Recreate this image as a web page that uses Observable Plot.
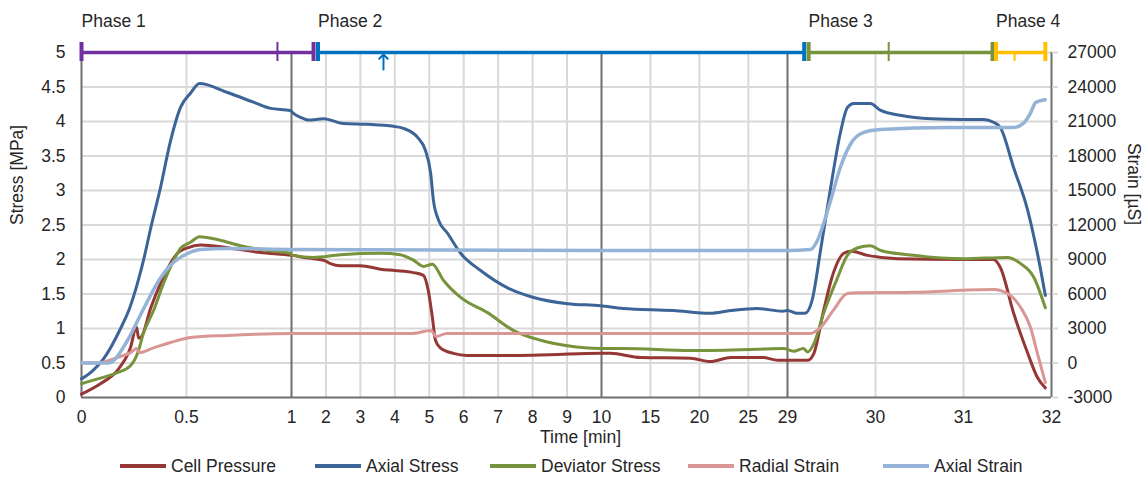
<!DOCTYPE html>
<html><head><meta charset="utf-8">
<script src="https://cdn.jsdelivr.net/npm/d3@7"></script>
<script src="https://cdn.jsdelivr.net/npm/@observablehq/plot@0.6"></script>
<style>
body{margin:0;background:#fff;font-family:"Liberation Sans",Arial,sans-serif;}
#chart{width:1143px;height:448px;}
#legend{position:relative;width:1143px;height:32px;font-size:17.5px;color:#262626;}
.li{position:absolute;top:0;height:36px;display:flex;align-items:center;white-space:nowrap;}
.sw{display:inline-block;width:46px;height:4px;margin-right:5px;}
</style></head><body>
<div id="chart"></div><div id="legend"></div>
<script>
// ---- axis definitions ----
const xBreaks = [0, 1, 10, 29, 32];
const xTicks = [0, 0.5, 1, 2, 3, 4, 5, 6, 7, 8, 9, 10, 15, 20, 25, 29, 30, 31, 32];
const stressTicks = [0, 0.5, 1, 1.5, 2, 2.5, 3, 3.5, 4, 4.5, 5];

// ---- series ----
const seriesNames = ["Cell Pressure", "Axial Stress", "Deviator Stress", "Radial Strain", "Axial Strain"];
const seriesColors = ["#953735", "#3c6496", "#77933c", "#d99694", "#95b3d7"];

// [time min, stress MPa]
const cellPressure = [[0,0.05],[0.09,0.2],[0.17,0.39],[0.233,0.72],[0.262,1.02],[0.272,0.86],[0.285,0.88],[0.33,1.3],[0.376,1.65],[0.457,2.09],[0.505,2.17],[0.567,2.21],[0.695,2.17],[0.852,2.1],[1.0,2.06],[1.5,2.02],[1.93,1.99],[2.13,1.94],[2.42,1.91],[3.0,1.91],[3.58,1.86],[4.0,1.84],[4.54,1.81],[4.83,1.77],[4.97,1.55],[5.09,1.16],[5.18,0.83],[5.32,0.72],[5.7,0.64],[6.1,0.61],[7.45,0.61],[8.5,0.62],[9.97,0.64],[10.9,0.64],[14,0.58],[19.1,0.57],[21.1,0.52],[23.2,0.58],[26.5,0.58],[28,0.54],[29.18,0.54],[29.23,0.54],[29.3,0.64],[29.41,1.26],[29.52,1.8],[29.64,2.09],[29.72,2.12],[29.91,2.06],[30.25,2.01],[31.0,2.0],[31.34,2.0],[31.42,1.88],[31.57,1.22],[31.73,0.64],[31.84,0.29],[31.93,0.14]];
const axialStress = [[0,0.27],[0.05,0.38],[0.105,0.56],[0.186,1.0],[0.23,1.3],[0.267,1.66],[0.3,2.05],[0.33,2.46],[0.376,3.04],[0.424,3.72],[0.471,4.2],[0.519,4.41],[0.562,4.55],[0.695,4.42],[0.819,4.28],[0.9,4.19],[0.995,4.16],[1.03,4.13],[1.26,4.06],[1.5,4.02],[1.93,4.04],[2.51,3.97],[3.2,3.96],[3.96,3.93],[4.25,3.9],[4.66,3.77],[4.89,3.58],[5.04,3.25],[5.12,2.86],[5.27,2.57],[5.53,2.38],[5.91,2.09],[6.49,1.84],[7.27,1.59],[8.03,1.45],[9.01,1.36],[9.97,1.33],[12.2,1.29],[17.35,1.26],[21.1,1.22],[23.2,1.26],[25.9,1.29],[28.5,1.25],[29.0,1.26],[29.11,1.22],[29.2,1.22],[29.28,1.41],[29.38,2.17],[29.49,3.04],[29.6,3.83],[29.68,4.2],[29.75,4.26],[29.94,4.26],[30.06,4.16],[30.28,4.09],[30.63,4.04],[31.0,4.03],[31.23,4.03],[31.34,3.99],[31.42,3.91],[31.57,3.33],[31.73,2.71],[31.84,2.09],[31.93,1.48]];
const deviatorStress = [[0,0.2],[0.09,0.28],[0.17,0.36],[0.233,0.46],[0.267,0.64],[0.295,0.93],[0.343,1.26],[0.39,1.65],[0.457,2.09],[0.471,2.16],[0.519,2.25],[0.562,2.33],[0.66,2.28],[0.757,2.2],[0.886,2.13],[0.995,2.09],[1.03,2.06],[1.64,2.03],[2.42,2.07],[3.58,2.09],[4.16,2.07],[4.54,1.99],[4.83,1.9],[5.09,1.93],[5.41,1.7],[5.91,1.45],[6.69,1.23],[7.45,0.97],[8.23,0.83],[9.01,0.75],[9.97,0.71],[12.2,0.71],[19.1,0.68],[25.9,0.7],[28.6,0.71],[29.07,0.67],[29.18,0.71],[29.23,0.66],[29.3,0.78],[29.41,1.22],[29.57,1.74],[29.68,2.06],[29.8,2.17],[29.94,2.2],[30.06,2.13],[30.43,2.06],[31.0,2.01],[31.5,2.03],[31.65,1.94],[31.8,1.74],[31.93,1.3]];
// [time min, strain µS]
const radialStrain = [[0,0],[0.09,50],[0.17,480],[0.233,900],[0.262,1260],[0.275,900],[0.343,1320],[0.424,1780],[0.519,2220],[0.695,2400],[1.0,2570],[4.5,2570],[5.05,2830],[5.2,2300],[5.5,2570],[29.2,2570],[29.26,2570],[29.38,3130],[29.52,4570],[29.68,6040],[29.8,6100],[30.43,6150],[31.34,6390],[31.5,6040],[31.65,4830],[31.76,3130],[31.84,830],[31.93,-1700]];
const axialStrain = [[0,0],[0.13,0],[0.219,1960],[0.295,4700],[0.376,7400],[0.424,8500],[0.505,9520],[0.567,9870],[0.695,9960],[1.0,9870],[10,9780],[29.0,9780],[29.26,9870],[29.34,10650],[29.41,12130],[29.49,14130],[29.6,17000],[29.72,19090],[29.86,20040],[30.06,20300],[30.82,20480],[31.57,20480],[31.68,20830],[31.76,21700],[31.82,22650],[31.93,22900]];

// ---- phases ----
const phaseNames = ["Phase 1", "Phase 2", "Phase 3", "Phase 4"];
const phaseColors = ["#7030a0", "#0070c0", "#77933c", "#ffc000"];
const phaseStart = [0, 1.77, 29.24, 31.37];
const phaseEnd = [1.64, 29.19, 31.33, 31.93];
const phaseMark = [0.933, 3.67, 30.15, 31.58];

// right axis: 0.5 MPa <-> 0 µS, 0.5 MPa per 3000 µS
const strainToStress = u => u / 6000 + 0.5;
const stressToStrain = s => String(Math.round((s - 0.5) * 6000));

const FONT = "'Liberation Sans', Arial, sans-serif";
const FS = 17.5;
const grid = "#d9d9d9", dark = "#6f6f6f";

const seriesData = [
  cellPressure, axialStress, deviatorStress,
  radialStrain.map(([t, u]) => [t, strainToStress(u)]),
  axialStrain.map(([t, u]) => [t, strainToStress(u)])
];

const marks = [
  Plot.ruleY(stressTicks.slice(1), {stroke: grid, strokeWidth: 2}),
  Plot.ruleX(xTicks.filter(t => !xBreaks.includes(t)), {stroke: grid, strokeWidth: 2}),
  Plot.ruleX(xBreaks, {stroke: dark, strokeWidth: 2}),
  Plot.ruleY([0], {stroke: dark, strokeWidth: 2}),
  Plot.axisX({ticks: xTicks, tickSize: 0, tickPadding: 13, label: null, tickFormat: d => String(d)}),
  Plot.axisY({ticks: stressTicks, tickSize: 0, tickPadding: 16, label: null, tickFormat: d => String(d)}),
  Plot.axisY({anchor: "right", ticks: stressTicks, tickSize: 6, tickPadding: 10, stroke: grid, strokeWidth: 2, label: null, tickFormat: stressToStrain}),
  Plot.text(["Stress [MPa]"], {frameAnchor: "left", dx: -64, rotate: -90, text: d => d, fontSize: FS}),
  Plot.text(["Strain [µS]"], {frameAnchor: "right", dx: 82, rotate: 90, text: d => d, fontSize: FS}),
  Plot.text(["Time [min]"], {frameAnchor: "bottom", dx: 14, dy: 45, text: d => d, fontSize: FS}),
  ...seriesData.map((pts, i) => Plot.line(pts, {x: d => d[0], y: d => d[1], stroke: seriesColors[i], strokeWidth: i === 4 ? 3.5 : 3, curve: "monotone-x"}))
];

phaseNames.forEach((name, i) => {
  const c = phaseColors[i];
  marks.push(Plot.ruleY([5], {x1: phaseStart[i], x2: phaseEnd[i], stroke: c, strokeWidth: 3.5}));
  marks.push(Plot.ruleX([phaseStart[i], phaseEnd[i]], {y1: 5, y2: 5, insetTop: -10, insetBottom: -9, stroke: c, strokeWidth: 4}));
  if (i === 1) {
    marks.push(Plot.vector([phaseMark[i]], {x: d => d, y: 5, dy: 2, length: 15, anchor: "end", r: 5, stroke: c, strokeWidth: 2}));
  } else if (i === 3) {
    marks.push(Plot.ruleX([phaseMark[i]], {y1: 5, y2: 5, insetTop: 0, insetBottom: -9, stroke: c, strokeWidth: 2}));
  } else {
    marks.push(Plot.ruleX([phaseMark[i]], {y1: 5, y2: 5, insetTop: -10, insetBottom: -9, stroke: c, strokeWidth: 2}));
  }
  marks.push(Plot.text([name], {x: phaseStart[i], y: 5, dy: -31, text: d => d, textAnchor: "start", fontSize: FS}));
});

const chart = Plot.plot({
  width: 1143, height: 448,
  marginLeft: 81, marginRight: 92, marginTop: 52, marginBottom: 51,
  style: {fontFamily: FONT, fontSize: FS + "px", color: "#262626", background: "#fff", overflow: "visible"},
  x: {type: "linear", domain: xBreaks, range: [81, 291, 601, 787, 1051]},
  y: {type: "linear", domain: [0, 5], range: [397, 52]},
  marks
});
document.getElementById("chart").appendChild(chart);

// ---- legend ----
const legend = document.getElementById("legend");
const legendLeft = [120, 315, 490, 688, 883];
seriesNames.forEach((name, i) => {
  const item = document.createElement("div");
  item.className = "li";
  item.style.left = legendLeft[i] + "px";
  const sw = document.createElement("span");
  sw.className = "sw";
  sw.style.background = seriesColors[i];
  item.appendChild(sw);
  item.appendChild(document.createTextNode(name));
  legend.appendChild(item);
});
</script>
</body></html>
